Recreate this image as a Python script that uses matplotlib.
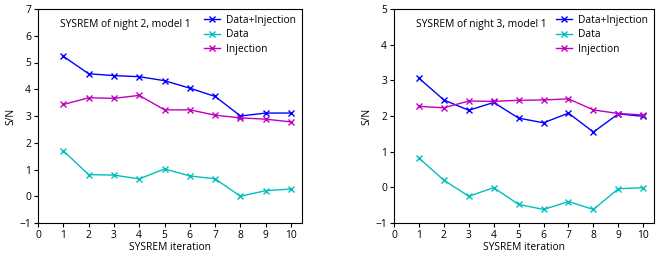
import matplotlib
matplotlib.use("Agg")
import matplotlib.pyplot as plt

plt.rcParams['font.family'] = ['Open Sans', 'DejaVu Sans']
plt.rcParams['font.size'] = 7.4

iterations = [1, 2, 3, 4, 5, 6, 7, 8, 9, 10]

# night 2, model 1
n2_data_inj = [5.23, 4.58, 4.51, 4.47, 4.32, 4.04, 3.73, 3.00, 3.11, 3.11]
n2_data = [1.70, 0.81, 0.79, 0.65, 1.02, 0.76, 0.65, 0.00, 0.21, 0.27]
n2_inj = [3.43, 3.68, 3.66, 3.77, 3.23, 3.23, 3.03, 2.93, 2.88, 2.78]

# night 3, model 1
n3_data_inj = [3.06, 2.45, 2.16, 2.38, 1.94, 1.81, 2.08, 1.55, 2.06, 1.99]
n3_data = [0.82, 0.20, -0.25, -0.01, -0.48, -0.62, -0.40, -0.62, -0.04, -0.01]
n3_inj = [2.27, 2.23, 2.42, 2.41, 2.44, 2.45, 2.48, 2.17, 2.07, 2.03]

fig = plt.figure(figsize=(6.64, 2.58), dpi=100)
ax1 = fig.add_axes([38/664, 1-223/258, 264/664, 214/258])
ax2 = fig.add_axes([394/664, 1-223/258, 260/664, 214/258])

panels = [
    (ax1, n2_data_inj, n2_data, n2_inj, "SYSREM of night 2, model 1", (-1, 7)),
    (ax2, n3_data_inj, n3_data, n3_inj, "SYSREM of night 3, model 1", (-1, 5)),
]

for ax, di, d, inj, title, ylim in panels:
    ax.plot(iterations, di, 'b-x', lw=1, ms=4.5, label="Data+Injection")
    ax.plot(iterations, d, 'c-x', lw=1, ms=4.5, label="Data")
    ax.plot(iterations, inj, 'm-x', lw=1, ms=4.5, label="Injection")
    ax.set_xlim(0, 10.43)
    ax.set_ylim(*ylim)
    ax.set_xticks(range(0, 11))
    ax.set_xlabel("SYSREM iteration", labelpad=1)
    ax.set_ylabel("S/N", labelpad=2)
    ax.tick_params(length=3, pad=2)
    ax.text(0.083, 0.927, title, transform=ax.transAxes, va='center', ha='left')
    ax.legend(loc='upper right', frameon=False, handlelength=1.6,
              handletextpad=0.6, labelspacing=0.35, borderaxespad=0.15)

fig.savefig("out.png", dpi=100)
